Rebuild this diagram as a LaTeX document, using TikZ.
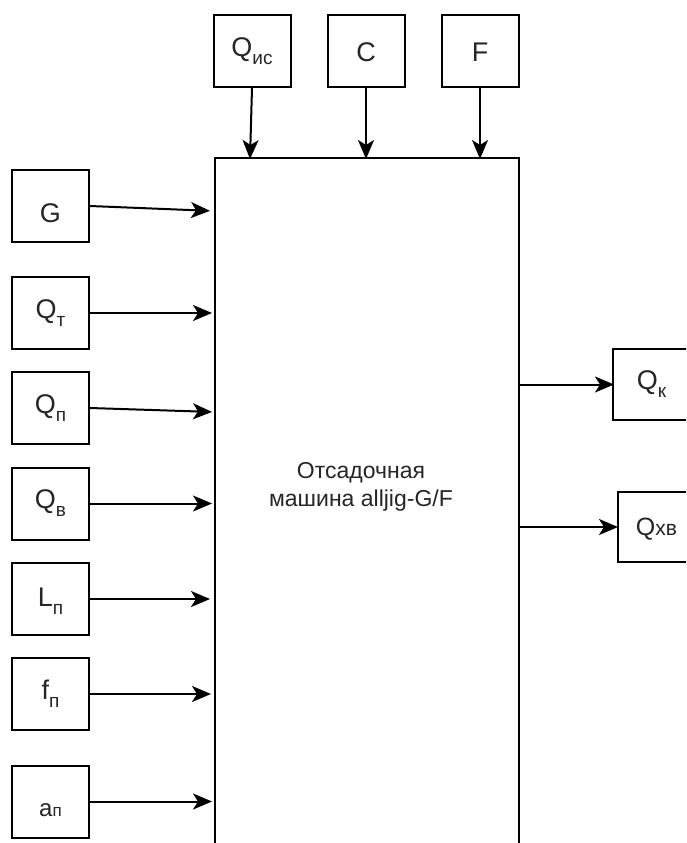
\documentclass[tikz,border=0pt]{standalone}
\usepackage{fontspec}
\setmainfont{Liberation Sans}
\usetikzlibrary{arrows.meta}
\newcommand\lowsub[1]{\raisebox{-8pt}{\fontsize{19}{19}\selectfont #1}}
\newcommand\shiftdown[2]{\raisebox{-#1}[\height][\depth]{#2}}
\begin{document}
\begin{tikzpicture}[x=1pt,y=-1pt,
  lbl/.style={font=\fontsize{27}{30}\selectfont, text=black!85},
  box/.style={draw, line width=2pt, minimum width=77pt, minimum height=72pt, inner sep=0pt, lbl},
  arr/.style={-{Stealth[length=19pt,width=16pt,inset=5pt]}, line width=2pt, shorten >=2pt}]
\clip (0,0) rectangle (686,843);
\fill[white] (0,0) rectangle (686,843);
% main box
\node[draw, line width=2pt, minimum width=304pt, minimum height=720pt, anchor=north west, inner sep=0pt] (M) at (214,157) {};
\node[font=\fontsize{23}{27.6}\selectfont, text=black!85, align=center] (T) at (361,487) {Отсадочная\\машина alljig-G/F};
% top inputs
\node[box] (Qis) at (252,51) {Q\lowsub{ис}};
\node[box] (C) at (366,51) {\shiftdown{1.5pt}{C}};
\node[box] (F) at (480,51) {\shiftdown{1.5pt}{F}};
% left inputs
\node[box] (G) at (50.5,206) {\shiftdown{7pt}{G}};
\node[box] (Qt) at (50.5,313) {Q\lowsub{т}};
\node[box] (Qp) at (50.5,408) {Q\lowsub{п}};
\node[box] (Qv) at (50.5,503.5) {Q\lowsub{в}};
\node[box] (Lp) at (50.5,599) {\shiftdown{2pt}{L\lowsub{п}}};
\node[box] (fp) at (50.5,694) {f\lowsub{п}};
\node[box] (ap) at (50.5,801.5) {\shiftdown{9pt}{\fontsize{24}{24}\selectfont a\fontsize{17}{17}\selectfont п}};
% outputs
\node[box, minimum height=71pt] (Qk) at (651.5,384.5) {Q\lowsub{к}};
\node[box, minimum height=70pt] (Qhv) at (656.5,527) {\shiftdown{2pt}{\fontsize{25}{25}\selectfont Q\fontsize{21}{21}\selectfont хв}};
% end points
\coordinate (mQis) at (250,159);
\coordinate (mG) at (214,211);
\coordinate (mQp) at (214,412);
\coordinate (sQk) at (518,384.5);
\coordinate (sQhv) at (518,527);
% connectors
\draw[arr, shorten >=0pt] (Qis.south) -- (mQis);
\draw[arr, shorten >=-2pt] (C.south) -- (C.south |- M.north);
\draw[arr, shorten >=-2pt] (F.south) -- (F.south |- M.north);
\draw[arr, shorten >=4pt] (G.east) -- (mG);
\draw[arr] (Qt.east) -- (M.west |- Qt.east);
\draw[arr] (Qp.east) -- (mQp);
\draw[arr] (Qv.east) -- (M.west |- Qv.east);
\draw[arr, shorten >=4pt] (Lp.east) -- (M.west |- Lp.east);
\draw[arr, shorten >=3pt] (fp.east) -- (M.west |- fp.east);
\draw[arr] (ap.east) -- (M.west |- ap.east);
\draw[arr, shorten >=-2pt] (sQk) -- (Qk.west);
\draw[arr, shorten >=-1pt] (sQhv) -- (Qhv.west);
\end{tikzpicture}
\end{document}
